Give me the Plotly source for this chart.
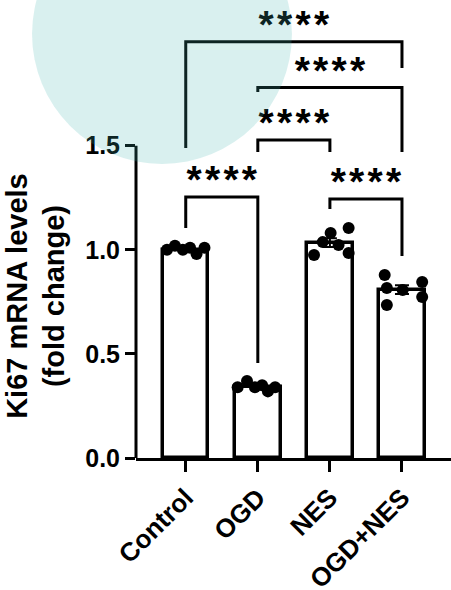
import plotly.graph_objects as go

# ---------------- data ----------------
categories = ["Control", "OGD", "NES", "OGD+NES"]
bar_means = [1.00, 0.343, 1.034, 0.809]
bar_sem = [0.006, 0.008, 0.021, 0.021]

points_control = [1.00, 1.02, 1.00, 1.01, 0.98, 1.01]
points_ogd = [0.34, 0.37, 0.34, 0.35, 0.32, 0.34]
points_nes = [0.975, 1.037, 1.081, 1.023, 1.105, 0.985]
points_ogd_nes = [0.879, 0.817, 0.735, 0.807, 0.845, 0.773]

# significance comparisons (group index pairs) and bracket heights (data units)
comp_pairs = [(0, 3), (1, 3), (1, 2), (0, 1), (2, 3)]
comp_top = [2.00, 1.78, 1.527, 1.254, 1.244]
comp_left_end = [1.489, 1.758, 1.47, 1.105, 1.196]
comp_right_end = [1.873, 1.47, 1.47, 0.456, 0.97]
comp_labels = ["****", "****", "****", "****", "****"]

y_tickvals = [0.0, 0.5, 1.0, 1.5]
y_ticktext = ["0.0", "0.5", "1.0", "1.5"]
y_title = "Ki67 mRNA levels<br>(fold change)"

# ---------------- style ----------------
FONT = "Liberation Sans, Arial, sans-serif"
BAR_WIDTH = 0.63
jitter = [
    [-0.26, -0.15, -0.04, 0.06, 0.15, 0.26],
    [-0.28, -0.15, -0.04, 0.06, 0.14, 0.24],
    [-0.22, -0.10, 0.01, 0.12, 0.26, 0.26],
    [-0.24, -0.21, -0.21, 0.01, 0.28, 0.28],
]
STAR_GAP = 0.065

all_points = [points_control, points_ogd, points_nes, points_ogd_nes]
xpos = list(range(len(categories)))

fig = go.Figure()

fig.add_trace(go.Bar(
    x=xpos, y=bar_means, width=BAR_WIDTH,
    marker=dict(color="white", line=dict(color="black", width=3.5)),
    error_y=dict(type="data", array=bar_sem, color="black", thickness=2, width=7),
    showlegend=False,
))

for i, pts in enumerate(all_points):
    fig.add_trace(go.Scatter(
        x=[xpos[i] + j for j in jitter[i]], y=pts, mode="markers",
        marker=dict(color="black", size=12),
        showlegend=False, cliponaxis=False,
    ))

# brackets
for (a, b), top, le, re in zip(comp_pairs, comp_top, comp_left_end, comp_right_end):
    fig.add_shape(type="path",
                  path=f"M {a} {le} L {a} {top} L {b} {top} L {b} {re}",
                  xref="x", yref="y", line=dict(color="black", width=3))

# stars as text trace (so the overlay tints them); hair spaces between asterisks
fig.add_trace(go.Scatter(
    x=[(a + b) / 2 for a, b in comp_pairs],
    y=[t + STAR_GAP for t in comp_top],
    mode="text", text=["\u200a".join(lbl) for lbl in comp_labels],
    textposition="middle center",
    textfont=dict(family=FONT, size=39, color="black", weight="bold"),
    showlegend=False, cliponaxis=False,
))

# y-axis line only up to 1.5
fig.add_shape(type="line", xref="paper", yref="y", x0=0, x1=0,
              y0=y_tickvals[0], y1=y_tickvals[-1],
              line=dict(color="black", width=3))

# y title
fig.add_annotation(text=y_title, xref="paper", yref="y", x=-0.32, y=0.78,
                   xanchor="center", yanchor="middle", textangle=-90, showarrow=False,
                   font=dict(family=FONT, size=29, color="black", weight="bold"))

# decorative translucent circle
fig.add_shape(type="circle", xref="paper", yref="paper",
              x0=-0.330, x1=0.495, y0=0.642, y1=1.2096,
              fillcolor="rgba(64,180,175,0.2)", line=dict(width=0), layer="above")

fig.update_layout(
    width=451, height=590,
    margin=dict(l=136, r=0, t=0, b=132),
    plot_bgcolor="white", paper_bgcolor="white",
    font=dict(family=FONT, color="black"),
    bargap=0,
)
fig.update_xaxes(range=[-0.69, 3.68], tickvals=xpos, ticktext=categories,
                 tickangle=-45, showline=True, linecolor="black", linewidth=3,
                 ticks="outside", ticklen=11, tickwidth=3, tickcolor="black",
                 tickfont=dict(family=FONT, size=26, color="black", weight="bold"),
                 showgrid=False, zeroline=False, automargin=False)
fig.update_yaxes(range=[0, 2.2], tickvals=y_tickvals, ticktext=y_ticktext,
                 showline=False, ticks="outside", ticklen=10, tickwidth=3,
                 tickcolor="black",
                 tickfont=dict(family=FONT, size=25, color="black", weight="bold"),
                 showgrid=False, zeroline=False, automargin=False)

fig.write_html("out.html", config={"displayModeBar": False},
               post_script="document.body.style.margin='0';document.body.style.padding='0';")
